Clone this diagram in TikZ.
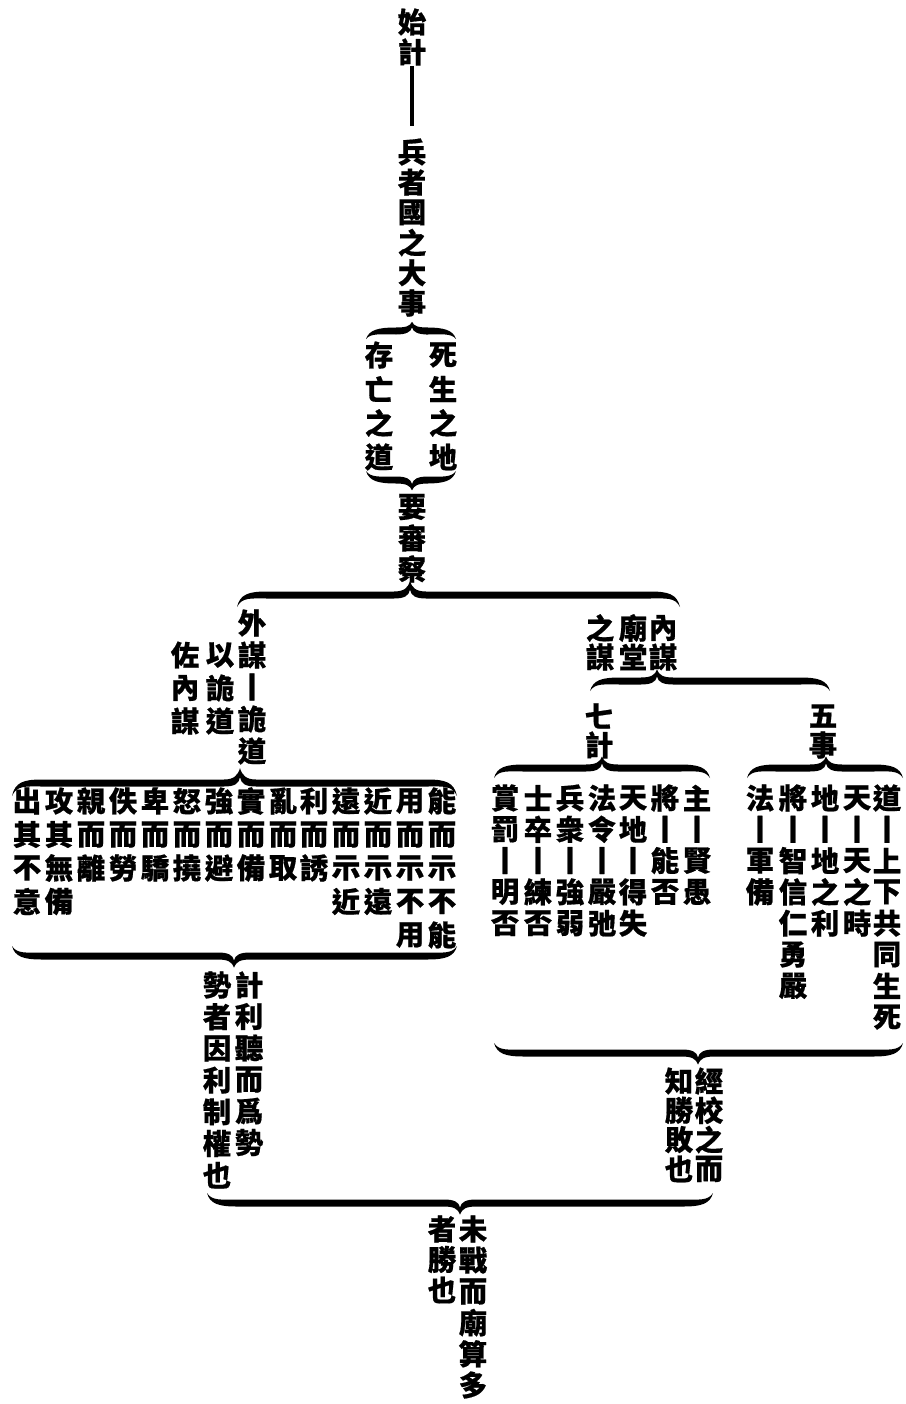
\documentclass[tikz,border=0pt]{standalone}
\usepackage{fontspec}
\newfontfamily\cjk[BoldFeatures={FakeBold=0.6}]{Noto Sans CJK TC}
\tikzset{
  ch/.style={inner sep=0pt, font=\cjk\bfseries\fontsize{28.5}{28.5}\selectfont},
  stem/.style={line width=4pt},
  bracefill/.style={fill=black}
}
% vertical column: name, x, first y, step, chars
\newcommand\vcolumn[5]{%
  \foreach \c [count=\i] in {#5} {\node[ch] (#1-\i) at ({#2},{#3+(\i-1)*#4}) {\c};}}
% calligraphic brace: x1, x2, xtip, ybody, s (1 = tip up, -1 = tip down), depth
\newcommand\mybrace[6]{%
  \fill[bracefill] ({#1},{#4+(#5)*#6})
  .. controls ({#1+3},{#4-(#5)*1}) and ({#1+12},{#4-(#5)*3.5}) .. ({#1+30},{#4-(#5)*3.5})
  -- ({#3-16},{#4-(#5)*3.5})
  .. controls ({#3-6},{#4-(#5)*3.5}) and ({#3-2},{#4-(#5)*(#6*0.6)}) .. ({#3},{#4-(#5)*(#6*1.15)})
  .. controls ({#3+2},{#4-(#5)*(#6*0.6)}) and ({#3+6},{#4-(#5)*3.5}) .. ({#3+16},{#4-(#5)*3.5})
  -- ({#2-30},{#4-(#5)*3.5})
  .. controls ({#2-12},{#4-(#5)*3.5}) and ({#2-3},{#4-(#5)*1}) .. ({#2},{#4+(#5)*#6})
  .. controls ({#2-5},{#4+(#5)*2}) and ({#2-14},{#4+(#5)*3.5}) .. ({#2-30},{#4+(#5)*3.5})
  -- ({#3+16},{#4+(#5)*3.5})
  .. controls ({#3+6},{#4+(#5)*3.5}) and ({#3+1},{#4+(#5)*1}) .. ({#3},{#4-(#5)*(#6*0.45)})
  .. controls ({#3-1},{#4+(#5)*1}) and ({#3-6},{#4+(#5)*3.5}) .. ({#3-16},{#4+(#5)*3.5})
  -- ({#1+30},{#4+(#5)*3.5})
  .. controls ({#1+14},{#4+(#5)*3.5}) and ({#1+5},{#4+(#5)*2}) .. ({#1},{#4+(#5)*#6}) -- cycle;}
\begin{document}
\begin{tikzpicture}[x=1pt,y=-1pt]
\fill[white] (0,0) rectangle (905,1404);
\useasboundingbox (0,0) rectangle (905,1404);

% top title
\vcolumn{T}{412}{22}{30}{始,計}
\vcolumn{U}{412}{152}{30.2}{兵,者,國,之,大,事}
\draw[stem, shorten <=0pt, shorten >=12pt] (T-2.south) -- (U-1.north);

% 死生之地 / 存亡之道
\mybrace{366}{456}{412}{331}{1}{8}
\vcolumn{V}{443}{355}{34}{死,生,之,地}
\vcolumn{W}{379}{355}{34}{存,亡,之,道}
\mybrace{366}{456}{412}{480}{-1}{9}

% 要審察
\vcolumn{X}{412}{507}{31}{要,審,察}
\mybrace{237}{680}{410}{595}{1}{12}

% left branch: 外謀 — 詭道
\vcolumn{A}{252}{623}{32}{外,謀,丨,詭,道}
\vcolumn{B}{220}{655}{33}{以,詭,道}
\vcolumn{C}{185}{655}{33}{佐,內,謀}

\mybrace{12}{457}{240}{783}{1}{13}
\vcolumn{L1}{442}{801}{33.5}{能,而,示,不,能}
\vcolumn{L2}{410}{801}{33.5}{用,而,示,不,用}
\vcolumn{L3}{378}{801}{33.5}{近,而,示,遠}
\vcolumn{L4}{346}{801}{33.5}{遠,而,示,近}
\vcolumn{L5}{314}{801}{33.5}{利,而,誘}
\vcolumn{L6}{283}{801}{33.5}{亂,而,取}
\vcolumn{L7}{251}{801}{33.5}{實,而,備}
\vcolumn{L8}{219}{801}{33.5}{強,而,避}
\vcolumn{L9}{187}{801}{33.5}{怒,而,撓}
\vcolumn{L10}{155}{801}{33.5}{卑,而,驕}
\vcolumn{L11}{123}{801}{33.5}{佚,而,勞}
\vcolumn{L12}{91}{801}{33.5}{親,而,離}
\vcolumn{L13}{59}{801}{33.5}{攻,其,無,備}
\vcolumn{L14}{27}{801}{33.5}{出,其,不,意}
\mybrace{12}{457}{234}{956}{-1}{10}

\vcolumn{D}{249}{985}{31.5}{計,利,聽,而,爲,勢}
\vcolumn{E}{217}{985}{31.7}{勢,者,因,利,制,權,也}

% right branch: 內謀
\vcolumn{R1}{663}{628}{29}{內,謀}
\vcolumn{R2}{633}{628}{29}{廟,堂}
\vcolumn{R3}{600}{628}{29}{之,謀}
\mybrace{590}{830}{657}{681}{1}{10}

\vcolumn{S}{599}{716}{29}{七,計}
\vcolumn{F}{823}{716}{29}{五,事}
\mybrace{494}{710}{602}{768}{1}{10}
\mybrace{747}{903}{826}{768}{1}{10}

% 七計
\vcolumn{Q1}{697}{798}{31.3}{主,丨,賢,愚}
\vcolumn{Q2}{665}{798}{31.3}{將,丨,能,否}
\vcolumn{Q3}{633}{798}{31.3}{天,地,丨,得,失}
\vcolumn{Q4}{602}{798}{31.3}{法,令,丨,嚴,弛}
\vcolumn{Q5}{570}{798}{31.3}{兵,衆,丨,強,弱}
\vcolumn{Q6}{538}{798}{31.3}{士,卒,丨,練,否}
\vcolumn{Q7}{505}{798}{31.3}{賞,罰,丨,明,否}

% 五事
\vcolumn{P1}{887}{798}{31.3}{道,丨,上,下,共,同,生,死}
\vcolumn{P2}{857}{798}{31.3}{天,丨,天,之,時}
\vcolumn{P3}{825}{798}{31.3}{地,丨,地,之,利}
\vcolumn{P4}{793}{798}{31.3}{將,丨,智,信,仁,勇,嚴}
\vcolumn{P5}{760}{798}{31.3}{法,丨,軍,備}

\mybrace{494}{903}{698}{1053}{-1}{10}
\vcolumn{G}{709}{1081}{29.3}{經,校,之,而}
\vcolumn{H}{679}{1081}{29.3}{知,勝,敗,也}

% bottom
\mybrace{207}{713}{460}{1203}{-1}{10}
\vcolumn{K}{473}{1229}{31.2}{未,戰,而,廟,算,多}
\vcolumn{M}{442}{1229}{30.5}{者,勝,也}
\end{tikzpicture}
\end{document}
